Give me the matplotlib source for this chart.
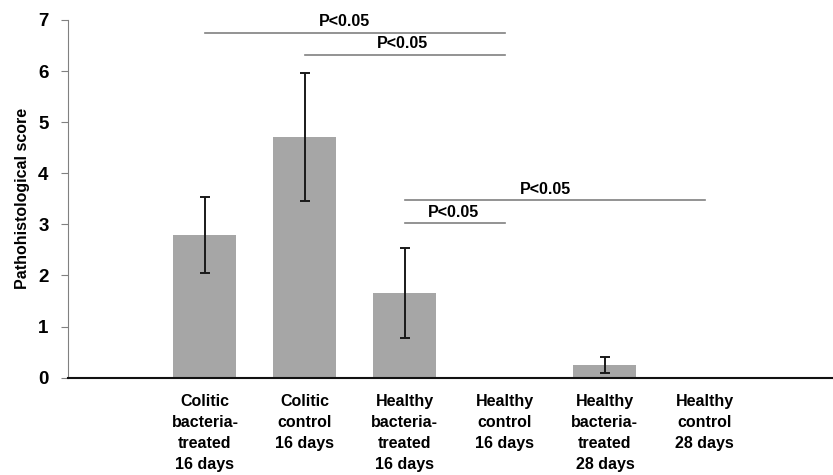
import matplotlib.pyplot as plt

groups = ["Colitic\nbacteria-\ntreated\n16 days", "Colitic\ncontrol\n16 days",
          "Healthy\nbacteria-\ntreated\n16 days", "Healthy\ncontrol\n16 days",
          "Healthy\nbacteria-\ntreated\n28 days", "Healthy\ncontrol\n28 days"]
score = [2.79, 4.71, 1.66, 0.0, 0.245, 0.0]
err = [0.74, 1.25, 0.88, 0.0, 0.16, 0.0]

# significance brackets: (from bar, to bar, line height, label x, label y)
sig_pairs = [(0, 3, 6.75, 1.40, 6.97), (1, 3, 6.31, 1.98, 6.53),
             (2, 5, 3.47, 3.41, 3.69), (2, 3, 3.02, 2.49, 3.24)]
sig_text = "P<0.05"

plt.rcParams['font.family'] = ['Liberation Sans', 'DejaVu Sans']
plt.rcParams['font.weight'] = 'bold'

fig = plt.figure(figsize=(8.33, 4.75), dpi=100)
ax = fig.add_axes([0.0816, 0.205, 0.917, 0.753])

x = list(range(len(groups)))
ax.bar(x, score, width=0.63, color='#a6a6a6', zorder=2)
for xi, s, e in zip(x, score, err):
    if e > 0:
        ax.errorbar(xi, s, yerr=e, fmt='none', ecolor='#1a1a1a', elinewidth=1.4,
                    capsize=3.3, capthick=1.4, zorder=3)

for a, b, h, tx, ty in sig_pairs:
    ax.plot([a, b], [h, h], color='#808080', lw=1.2, zorder=1)
    ax.text(tx, ty, sig_text, ha='center', va='center', fontsize=11.5, fontweight='heavy')

ax.set_xlim(-1.37, 6.27)
ax.set_ylim(0, 7)
ax.set_yticks(range(8))
ax.set_xticks(x)
ax.set_xticklabels(groups, fontsize=11.5, fontweight='heavy', linespacing=1.5, va='top')
ax.tick_params(axis='x', length=0, pad=12)
ax.tick_params(axis='y', length=5, color='#808080', labelsize=13.5, pad=9)
for lbl in ax.get_yticklabels():
    lbl.set_fontweight('heavy')

ax.set_ylabel("Pathohistological score", fontsize=11.5, fontweight='heavy', labelpad=6)
ax.spines['top'].set_visible(False)
ax.spines['right'].set_visible(False)
ax.spines['left'].set_color('#808080')
ax.spines['bottom'].set_color('#111111')
ax.spines['bottom'].set_linewidth(1.5)

fig.savefig("out.png", dpi=100)
